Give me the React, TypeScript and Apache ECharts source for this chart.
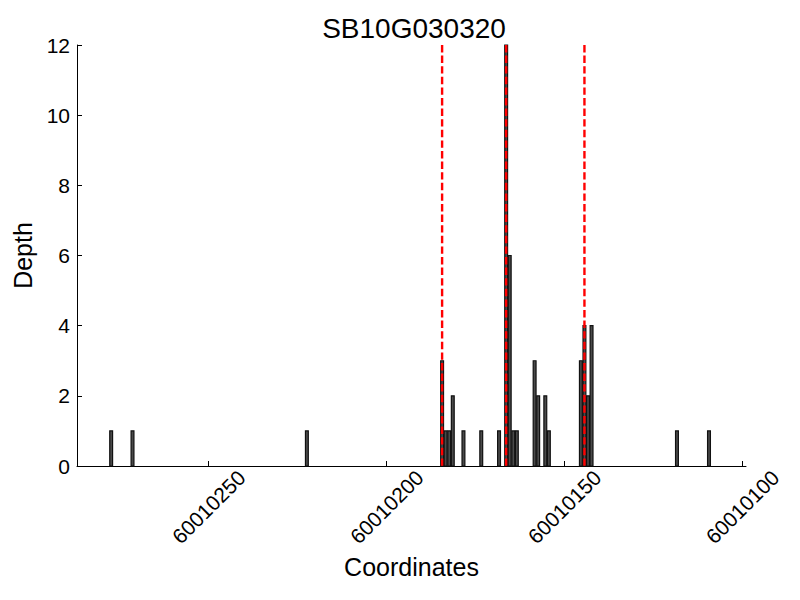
import React, { useEffect, useRef } from "react";
import * as echarts from "echarts";

// Coverage data (genomic coordinate -> read depth)
const positions = [
  60010277, 60010271, 60010222, 60010184, 60010183, 60010182, 60010181,
  60010178, 60010173, 60010168, 60010166, 60010165, 60010164, 60010163,
  60010158, 60010157, 60010155, 60010154, 60010145, 60010144, 60010143,
  60010142, 60010118, 60010109,
];
const depths = [
  1, 1, 1, 3, 1, 1, 2, 1, 1, 1, 12, 6, 1, 1, 3, 2, 2, 1, 3, 4, 2, 4, 1, 1,
];
// Dashed red marker positions
const markers = [60010184, 60010166, 60010144];
// Tick labels
const xTicks = [60010100, 60010150, 60010200, 60010250];
const yTicks = [0, 2, 4, 6, 8, 10, 12];

const BAR_W = 0.8;
const FONT = "Liberation Sans";

export default function App() {
  const ref = useRef<HTMLDivElement>(null);
  useEffect(() => {
    if (!ref.current) return;
    const chart = echarts.init(ref.current, null, { renderer: "svg" });
    const barData = positions.map((p, i) => [p, depths[i]]);
    const markData = markers.map((m) => [m, yTicks[yTicks.length - 1]]);
    chart.setOption({
      animation: false,
      backgroundColor: "#ffffff",
      textStyle: { fontFamily: FONT, color: "#000" },
      title: {
        text: "SB10G030320",
        left: 409,
        textAlign: "center",
        top: 9,
        textStyle: { fontFamily: FONT, fontSize: 28, fontWeight: "normal", color: "#000" },
      },
      grid: { left: 77, right: 54, top: 45, bottom: 134, containLabel: false, outerBoundsMode: "none" },
      xAxis: {
        type: "value",
        inverse: true,
        min: 60010099,
        max: 60010287,
        name: "Coordinates",
        nameLocation: "middle",
        nameGap: 88,
        nameTextStyle: { fontFamily: FONT, fontSize: 25, color: "#000" },
        axisLine: { show: true, onZero: false, lineStyle: { color: "#000", width: 1 } },
        axisTick: { show: true, inside: true, length: 5, customValues: xTicks, lineStyle: { color: "#000" } },
        axisLabel: {
          customValues: xTicks,
          rotate: 45,
          align: "center",
          verticalAlign: "middle",
          margin: 41,
          fontFamily: FONT,
          fontSize: 21,
          color: "#000",
          formatter: (v: number) => String(v),
        },
        splitLine: { show: false },
      },
      yAxis: {
        type: "value",
        min: yTicks[0],
        max: yTicks[yTicks.length - 1],
        interval: 2,
        name: "Depth",
        nameLocation: "middle",
        nameGap: 37,
        nameTextStyle: { fontFamily: FONT, fontSize: 25, color: "#000" },
        axisLine: { show: true, lineStyle: { color: "#000", width: 1 } },
        axisTick: { show: true, inside: true, length: 5, lineStyle: { color: "#000" } },
        axisLabel: { fontFamily: FONT, fontSize: 21, color: "#000", margin: 7 },
        splitLine: { show: false },
      },
      series: [
        {
          type: "custom",
          name: "depth",
          data: barData,
          encode: { x: 0, y: 1 },
          renderItem: (params: any, api: any) => {
            const v = api.value(0);
            const d = api.value(1);
            const p1 = api.coord([v, d]);
            const p2 = api.coord([v + BAR_W, 0]);
            const x = Math.min(p1[0], p2[0]);
            return {
              type: "rect",
              shape: { x, y: p1[1], width: Math.abs(p1[0] - p2[0]), height: p2[1] - p1[1] },
              style: { fill: "#4a4a4a", stroke: "#111", lineWidth: 1.2 },
            };
          },
          z: 2,
        },
        {
          type: "custom",
          name: "markers",
          data: markData,
          encode: { x: 0, y: 1 },
          renderItem: (params: any, api: any) => {
            const v = api.value(0) + BAR_W / 2;
            const top = api.coord([v, api.value(1)]);
            const bot = api.coord([v, 0]);
            return {
              type: "line",
              shape: { x1: top[0], y1: top[1], x2: bot[0], y2: bot[1] },
              style: { stroke: "#ff0000", lineWidth: 2.4, lineDash: [7.4, 3.2] },
            };
          },
          z: 3,
        },
      ],
    });
    return () => chart.dispose();
  }, []);
  return (
    <div
      ref={ref}
      style={{ position: "absolute", left: 0, top: 0, width: 800, height: 600 }}
    />
  );
}
